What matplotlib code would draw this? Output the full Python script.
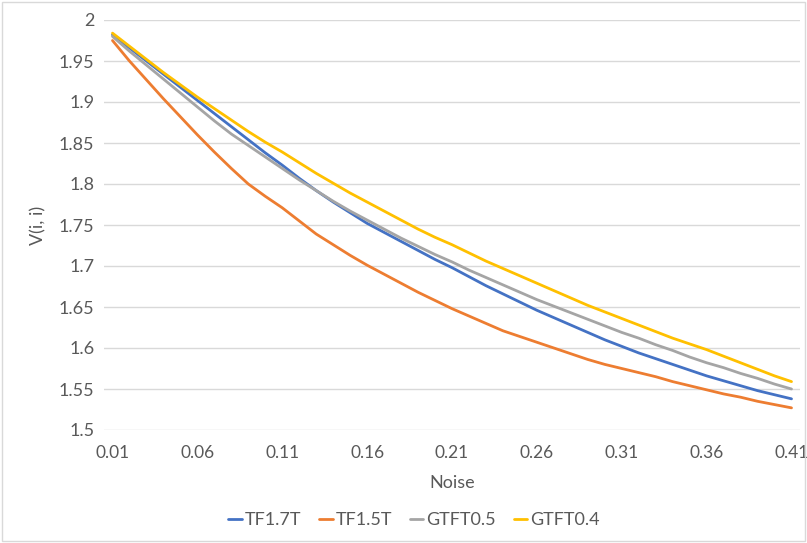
import numpy as np
import matplotlib
matplotlib.use("Agg")
import matplotlib.pyplot as plt
from matplotlib.patches import Rectangle

plt.rcParams["font.family"] = ["Lato", "DejaVu Sans"]

TXT = "#595959"
GRID = "#D9D9D9"

# ---- data -----------------------------------------------------------------
noise = [f"{0.01 * i:.2f}" for i in range(1, 42)]

tf17 = [1.982, 1.966, 1.950, 1.934, 1.918, 1.902, 1.886, 1.870, 1.854, 1.838,
        1.823, 1.807, 1.792, 1.778, 1.765, 1.752, 1.741, 1.730, 1.719, 1.708,
        1.698, 1.687, 1.676, 1.666, 1.656, 1.646, 1.637, 1.628, 1.619, 1.610,
        1.602, 1.594, 1.587, 1.580, 1.573, 1.566, 1.560, 1.554, 1.548, 1.543,
        1.538]
tf15 = [1.975, 1.950, 1.927, 1.904, 1.882, 1.860, 1.839, 1.819, 1.800, 1.785,
        1.771, 1.755, 1.739, 1.726, 1.713, 1.701, 1.690, 1.679, 1.668, 1.658,
        1.648, 1.639, 1.630, 1.621, 1.614, 1.607, 1.600, 1.593, 1.586, 1.580,
        1.575, 1.570, 1.565, 1.559, 1.554, 1.549, 1.544, 1.540, 1.535, 1.531,
        1.527]
gtft05 = [1.980, 1.962, 1.945, 1.928, 1.911, 1.894, 1.877, 1.861, 1.847, 1.833,
          1.819, 1.805, 1.792, 1.779, 1.767, 1.756, 1.745, 1.734, 1.724, 1.714,
          1.705, 1.695, 1.686, 1.677, 1.668, 1.659, 1.651, 1.643, 1.635, 1.627,
          1.619, 1.612, 1.604, 1.597, 1.589, 1.582, 1.576, 1.569, 1.563, 1.556,
          1.550]
gtft04 = [1.984, 1.968, 1.952, 1.936, 1.921, 1.906, 1.892, 1.878, 1.864, 1.851,
          1.839, 1.826, 1.813, 1.801, 1.789, 1.778, 1.767, 1.756, 1.745, 1.735,
          1.726, 1.716, 1.706, 1.697, 1.688, 1.679, 1.670, 1.661, 1.652, 1.644,
          1.636, 1.628, 1.620, 1.612, 1.605, 1.598, 1.590, 1.582, 1.574, 1.566,
          1.559]

series = [("TF1.7T", tf17, "#4472C4"),
          ("TF1.5T", tf15, "#ED7D31"),
          ("GTFT0.5", gtft05, "#A5A5A5"),
          ("GTFT0.4", gtft04, "#FFC000")]

y_ticks = [1.5, 1.55, 1.6, 1.65, 1.7, 1.75, 1.8, 1.85, 1.9, 1.95, 2.0]
y_labels = ["1.5", "1.55", "1.6", "1.65", "1.7", "1.75", "1.8", "1.85", "1.9", "1.95", "2"]

# ---- figure ---------------------------------------------------------------
fig = plt.figure(figsize=(8.07, 5.43), dpi=100)
ax = fig.add_axes([104 / 807, 1 - 430 / 543, 696 / 807, 410 / 543])

x = np.arange(len(noise))
for name, vals, col in series:
    ax.plot(x, vals, color=col, lw=2.0, label=name, solid_capstyle="round")

ax.set_xlim(-0.5, len(noise) - 0.5)
ax.set_ylim(1.5, 2.0)
ax.set_yticks(y_ticks)
ax.set_yticklabels(y_labels)
ax.set_xticks(x[::5])
ax.set_xticklabels(noise[::5])
ax.tick_params(length=0, labelsize=13, labelcolor=TXT, pad=7)
ax.tick_params(axis="x", labelsize=12.5, pad=11)
ax.grid(axis="y", color=GRID, lw=1.0)
ax.set_axisbelow(True)
for s in ax.spines.values():
    s.set_visible(False)

ax.set_xlabel("Noise", fontsize=13, color=TXT, labelpad=10)
ax.set_ylabel("V(i, i)", fontsize=13, color=TXT, labelpad=9)

fig.legend(loc="center", bbox_to_anchor=(414 / 807, 1 - 520 / 543), ncol=4,
           frameon=False, fontsize=13, labelcolor=TXT, handlelength=0.75,
           handletextpad=0.15, columnspacing=1.0)

fig.patches.append(Rectangle((0.003, 0.003), 0.994, 0.994, transform=fig.transFigure,
                             fill=False, edgecolor=GRID, lw=1.0))

fig.savefig("out.png", dpi=100)
